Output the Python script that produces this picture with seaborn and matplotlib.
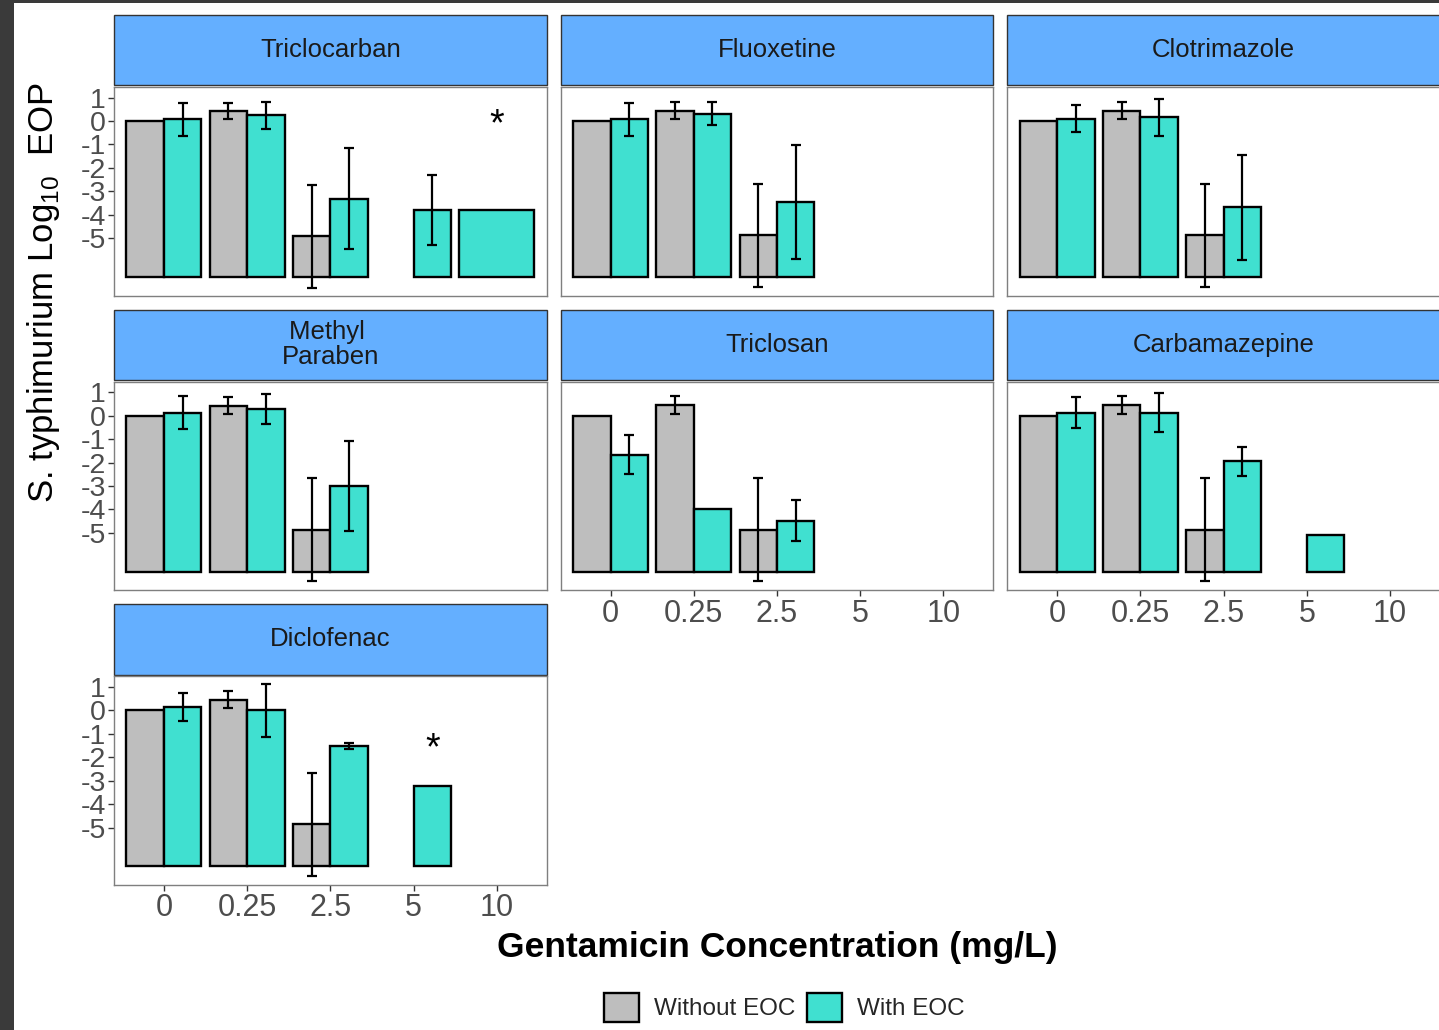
import numpy as np
import pandas as pd
import matplotlib
matplotlib.use('Agg')
import matplotlib.pyplot as plt
import seaborn as sns
from matplotlib.patches import Rectangle, Patch

nan = float('nan')

conc_labels = ['0', '0.25', '2.5', '5', '10']
drugs = ['Triclocarban', 'Fluoxetine', 'Clotrimazole', 'Methyl \nParaben',
         'Triclosan', 'Carbamazepine', 'Diclofenac']
groups = ['Without EOC', 'With EOC']

# log10 EOP, one row per drug, columns follow conc_labels
# nan = row present but NA (slot kept empty), None = no row
without_mean = [
    [0.0, 0.43, -4.91, nan, None],
    [0.0, 0.44, -4.87, None, None],
    [0.0, 0.44, -4.87, None, None],
    [0.0, 0.42, -4.86, None, None],
    [0.0, 0.45, -4.87, None, None],
    [0.0, 0.45, -4.87, nan, None],
    [0.0, 0.45, -4.87, nan, None],
]
without_sd = [
    [0.0, 0.36, 2.20, nan, None],
    [0.0, 0.36, 2.20, None, None],
    [0.0, 0.36, 2.20, None, None],
    [0.0, 0.36, 2.20, None, None],
    [0.0, 0.37, 2.20, None, None],
    [0.0, 0.37, 2.20, nan, None],
    [0.0, 0.36, 2.20, nan, None],
]
with_mean = [
    [0.07, 0.24, -3.31, -3.80, -3.80],
    [0.07, 0.31, -3.46, None, None],
    [0.10, 0.16, -3.67, None, None],
    [0.13, 0.28, -3.00, None, None],
    [-1.66, -3.97, -4.48, None, None],
    [0.13, 0.13, -1.95, -5.08, None],
    [0.14, 0.00, -1.53, -3.23, None],
]
with_sd = [
    [0.72, 0.57, 2.16, 1.50, 0.0],
    [0.70, 0.49, 2.43, None, None],
    [0.57, 0.79, 2.24, None, None],
    [0.70, 0.64, 1.90, None, None],
    [0.84, 0.0, 0.87, None, None],
    [0.67, 0.82, 0.62, 0.0, None],
    [0.60, 1.12, 0.13, 0.0, None],
]

# significance stars
star_drugs = ['Triclocarban', 'Diclofenac']
star_conc = ['10', '5']
star_y = [-0.2, -1.65]

palette = {'Without EOC': '#BEBEBE', 'With EOC': '#40E0D0'}
base = -6.65

rows = []
for d, drug in enumerate(drugs):
    for gi, (means, sds) in enumerate([(without_mean, without_sd), (with_mean, with_sd)]):
        for ci in range(len(conc_labels)):
            m = means[d][ci]
            if m is None:
                continue
            rows.append(dict(drug=drug, ci=ci, gi=gi, group=groups[gi], mean=m, sd=sds[d][ci]))
df = pd.DataFrame(rows)


def bar_x(sub):
    # dodge like ggplot: total width 0.9 split among rows present
    n = len(sub)
    w = 0.9 / n
    xs = [sub['ci'].iloc[0] - 0.45 + w * (k + 0.5) for k in range(n)]
    return xs, w


def draw_bars(data, color=None, label=None):
    ax = plt.gca()
    for ci, sub in data.groupby('ci'):
        sub = sub.sort_values('gi')
        xs, w = bar_x(sub)
        for x, row in zip(xs, sub.itertuples()):
            if np.isnan(row.mean):
                continue
            ax.bar(x, row.mean - base, bottom=base, width=w, color=palette[row.group],
                   edgecolor='black', linewidth=1.7, zorder=2)
            if row.sd > 0:
                ax.errorbar(x, row.mean, yerr=row.sd, fmt='none', ecolor='black',
                            elinewidth=1.6, capsize=3.5, capthick=1.6, zorder=3)
    drug = data['drug'].iloc[0]
    for sd_, sc, sy in zip(star_drugs, star_conc, star_y):
        if sd_ != drug:
            continue
        ci = conc_labels.index(sc)
        sub = data[data['ci'] == ci].sort_values('gi')
        xs, w = bar_x(sub)
        ax.text(xs[-1], sy, '*', ha='center', va='center', fontsize=27, color='black', zorder=4)


sns.set_style('white')
plt.rcParams['font.family'] = ['Liberation Sans', 'DejaVu Sans']

g = sns.FacetGrid(df, col='drug', col_wrap=3, col_order=drugs, sharex=True, sharey=True,
                  despine=False, height=2.1, aspect=2.07)
g.map_dataframe(draw_bars)
g.set_titles('')
g.set_axis_labels('', '')
fig = g.figure
fig.set_size_inches(14.39, 10.30)
fig.subplots_adjust(left=0.0792, right=1.0007, top=0.9155, bottom=0.1408,
                    wspace=0.0323, hspace=0.412)

bottom_axes = [4, 5, 6]
left_axes = [0, 3, 6]
for i, ax in enumerate(g.axes.flat):
    ax.set_xlim(-0.6, 4.6)
    ax.set_ylim(-7.45, 1.45)
    ax.set_xticks(range(len(conc_labels)))
    ax.set_xticklabels(conc_labels)
    ax.set_yticks([1, 0, -1, -2, -3, -4, -5])
    ax.set_yticklabels(['1', '0', '-1', '-2', '-3', '-4', '-5'])
    ax.tick_params(axis='both', colors='#333333', labelcolor='#4D4D4D',
                   length=4, width=1, pad=2)
    ax.tick_params(axis='x', labelsize=22, pad=2)
    ax.tick_params(axis='y', labelsize=20.5)
    ax.tick_params(bottom=i in bottom_axes, labelbottom=i in bottom_axes,
                   left=i in left_axes, labelleft=i in left_axes)
    for sp in ax.spines.values():
        sp.set_color('#7F7F7F')
        sp.set_linewidth(1.0)
    ax.set_facecolor('white')
    # facet strip
    ax.add_patch(Rectangle((0, 1.008), 1, 0.337, transform=ax.transAxes, clip_on=False,
                           facecolor='#64AFFF', edgecolor='#333333', linewidth=1.0))
    ax.text(0.5, 1.008 + 0.337 / 2, drugs[i], transform=ax.transAxes, ha='center', va='center',
            fontsize=18.5, color='#1A1A1A', linespacing=1.05)

fig.text(0.030, 0.716, r'S. typhimurium Log$_{\mathregular{10}}$  EOP', rotation=90,
         ha='center', va='center', fontsize=25, color='black')
fig.text(0.54, 0.0805, 'Gentamicin Concentration (mg/L)', ha='center', va='center',
         fontsize=25.5, fontweight='bold', color='black')

handles = [Patch(facecolor=palette[gr], edgecolor='black', linewidth=1.7, label=gr) for gr in groups]
fig.legend(handles=handles, loc='center', bbox_to_anchor=(0.545, 0.022), ncol=2, frameon=False,
           fontsize=17.5, handlelength=1.45, handleheight=1.45, handletextpad=0.6,
           columnspacing=0.5)

# dark frame from the screenshot
fig.patches.append(Rectangle((0, 0), 14 / 1439, 1, transform=fig.transFigure,
                             facecolor='#3A3A3A', edgecolor='none'))
fig.patches.append(Rectangle((0, 1 - 3 / 1030), 1, 3 / 1030, transform=fig.transFigure,
                             facecolor='#3A3A3A', edgecolor='none'))

fig.savefig('out.png', dpi=100)
